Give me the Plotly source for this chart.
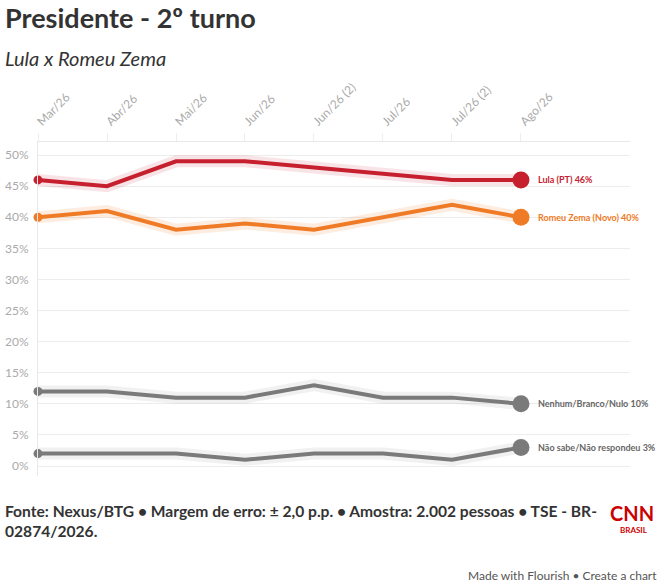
import plotly.graph_objects as go

# survey rounds
rodadas = ["Mar/26", "Abr/26", "Mai/26", "Jun/26", "Jun/26 (2)", "Jul/26", "Jul/26 (2)", "Ago/26"]

# percentages per candidate
lula = [46, 45, 49, 49, 48, 47, 46, 46]
zema = [40, 41, 38, 39, 38, 40, 42, 40]
nenhum = [12, 12, 11, 11, 13, 11, 11, 10]
nao_sabe = [2, 2, 2, 1, 2, 2, 1, 3]

# y ticks
y_ticks = [0, 5, 10, 15, 20, 25, 30, 35, 40, 45, 50]
y_labels = ["%d%%" % v for v in y_ticks]

nomes = ["Lula (PT)", "Romeu Zema (Novo)", "Nenhum/Branco/Nulo", "Não sabe/Não respondeu"]
cores = ["#c6202f", "#f07b26", "#7a7a7a", "#7a7a7a"]
halos = ["rgba(198,32,47,0.12)", "rgba(240,123,38,0.14)", "rgba(120,120,120,0.10)", "rgba(120,120,120,0.10)"]
label_cores = ["#c6202f", "#f07b26", "#666666", "#666666"]

FONT = "Lato"
xs = list(range(len(rodadas)))

fig = go.Figure()

for serie, nome, cor, halo, lcor in zip([lula, zema, nenhum, nao_sabe], nomes, cores, halos, label_cores):
    # soft halo behind the line
    fig.add_trace(go.Scatter(x=xs, y=serie, mode="lines", cliponaxis=False,
                             line=dict(color=halo, width=12), hoverinfo="skip", showlegend=False))
    fig.add_trace(go.Scatter(x=xs, y=serie, mode="lines", cliponaxis=False,
                             line=dict(color=cor, width=4), name=nome, showlegend=False))
    # start dot and end dot
    fig.add_trace(go.Scatter(x=[xs[0]], y=[serie[0]], mode="markers", cliponaxis=False,
                             marker=dict(color=cor, size=9), hoverinfo="skip", showlegend=False))
    fig.add_trace(go.Scatter(x=[xs[-1]], y=[serie[-1]], mode="markers", cliponaxis=False,
                             marker=dict(color=cor, size=17), hoverinfo="skip", showlegend=False))
    fig.add_annotation(x=xs[-1], y=serie[-1], text="<b>%s %d%%</b>" % (nome, serie[-1]),
                       xanchor="left", yanchor="middle", xshift=15, showarrow=False,
                       font=dict(family=FONT, size=9, color=lcor))

fig.update_layout(
    width=665, height=586,
    margin=dict(l=38, r=35, t=142, b=110, autoexpand=False),
    paper_bgcolor="white", plot_bgcolor="white",
    font=dict(family=FONT),
    xaxis=dict(
        range=[0, 8.58], side="top", tickmode="array", tickvals=xs, ticktext=rodadas,
        tickangle=-45, tickfont=dict(size=12, color="#aaaaaa"), automargin=False,
        ticks="outside", ticklen=8, tickcolor="#eeeeee",
        showgrid=False, zeroline=False, showline=True, linecolor="#e8e8e8", linewidth=1,
    ),
    yaxis=dict(
        range=[-1.6, 52.1], tickmode="array", tickvals=y_ticks, ticktext=y_labels,
        tickfont=dict(size=12, color="#aaaaaa"), automargin=False,
        showgrid=True, gridcolor="#ececec", gridwidth=1, zeroline=False,
        showline=True, linecolor="#e8e8e8", ticklabelstandoff=6,
    ),
)

# header
fig.add_annotation(xref="paper", yref="paper", x=-38 / 592, y=1 + (142 - 18) / 334,
                   text="<b>Presidente - 2º turno</b>", showarrow=False, xanchor="left", yanchor="middle",
                   xshift=3, font=dict(family=FONT, size=27, color="#333333"))
fig.add_annotation(xref="paper", yref="paper", x=-38 / 592, y=1 + (142 - 58) / 334,
                   text="<i>Lula x Romeu Zema</i>", showarrow=False, xanchor="left", yanchor="middle",
                   xshift=3, font=dict(family=FONT, size=20, color="#333333"))

# footer
fig.add_annotation(xref="paper", yref="paper", x=-38 / 592, y=-(500 - 476) / 334,
                   text="<b>Fonte: Nexus/BTG • Margem de erro: ± 2,0 p.p. • Amostra: 2.002 pessoas • TSE - BR-<br>02874/2026.</b>",
                   showarrow=False, xanchor="left", yanchor="top", align="left", xshift=3,
                   font=dict(family=FONT, size=15.6, color="#333333"))
fig.add_annotation(xref="paper", yref="paper", x=(632 - 38) / 592, y=-(513 - 476) / 334,
                   text="<b>CNN</b>", showarrow=False, xanchor="center", yanchor="middle",
                   font=dict(family=FONT, size=20, color="#cc0000"))
fig.add_annotation(xref="paper", yref="paper", x=(634 - 38) / 592, y=-(530 - 476) / 334,
                   text="<b>BRASIL</b>", showarrow=False, xanchor="center", yanchor="middle",
                   font=dict(family=FONT, size=8, color="#cc0000"))
fig.add_annotation(xref="paper", yref="paper", x=(659 - 38) / 592, y=-(575 - 476) / 334,
                   text="Made with Flourish • Create a chart", showarrow=False, xanchor="right", yanchor="middle",
                   font=dict(family=FONT, size=12, color="#555555"))

fig.write_html("out.html", config={"displayModeBar": False},
               post_script="document.body.style.margin='0';")
